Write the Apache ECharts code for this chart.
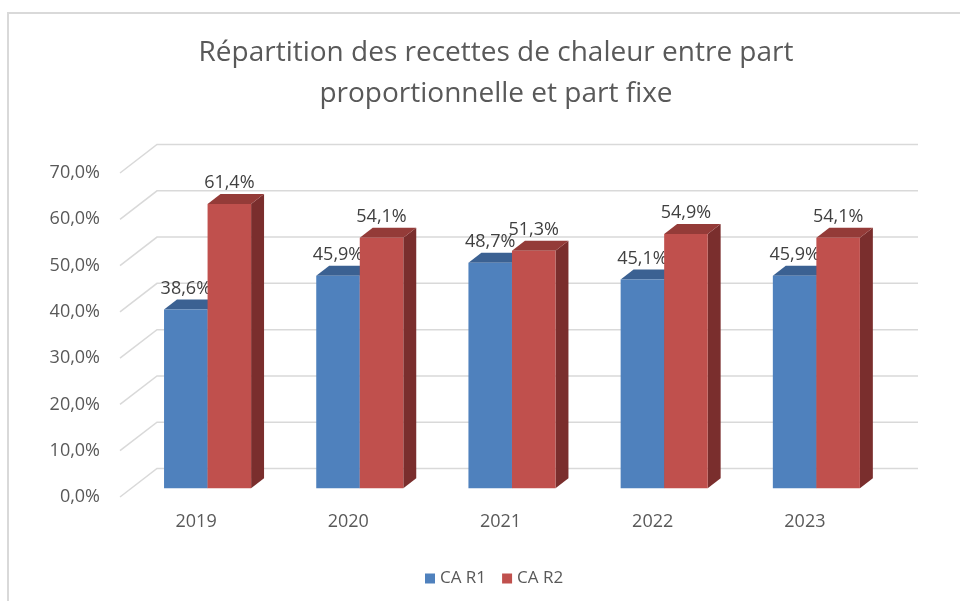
<!DOCTYPE html>
<html>
<head>
<meta charset="utf-8">
<script src="https://cdn.jsdelivr.net/npm/echarts@6/dist/echarts.min.js"></script>
<style>
  html, body { margin: 0; padding: 0; background: #fff; }
  #chart { width: 960px; height: 601px; }
</style>
</head>
<body>
<div id="chart"></div>
<script>
var years = ['2019', '2020', '2021', '2022', '2023'];
var caR1 = [38.6, 45.9, 48.7, 45.1, 45.9];
var caR2 = [61.4, 54.1, 51.3, 54.9, 54.1];
var yTicks = [0, 10, 20, 30, 40, 50, 60, 70];

// perspective offset from front plane to back wall
var DX = 37, DY = -28.5;
var FRONT = 0.31, DEPTH = 0.35;
var FONT = '"Open Sans", "Noto Sans", sans-serif';

function fmt(v) {
    return v.toFixed(1).replace('.', ',') + '%';
}

function gridItem(params, api) {
    var cs = params.coordSys;
    var y = api.coord([0, api.value(1)])[1];
    return {
        type: 'polyline',
        silent: true,
        shape: { points: [[cs.x, y], [cs.x + DX, y + DY], [cs.x + cs.width + DX, y + DY]] },
        style: { stroke: '#d9d9d9', lineWidth: 1.5, fill: null }
    };
}

function barRenderer(side, front, top, right) {
    return function (params, api) {
        var i = api.value(0), v = api.value(1);
        var c = api.coord([i, v]);
        var b = api.coord([i, 0]);
        var band = api.size([1, 0])[0];
        var w = band * 0.286;
        var fx = DX * FRONT, fy = DY * FRONT;
        var dx = DX * DEPTH, dy = DY * DEPTH;
        var x0 = c[0] + fx + (side === 0 ? -w : 0);
        var yt = c[1] + fy, yb = b[1] + fy;
        return {
            type: 'group',
            children: [
                {
                    type: 'polygon',
                    shape: { points: [[x0 + w, yt], [x0 + w + dx, yt + dy], [x0 + w + dx, yb + dy], [x0 + w, yb]] },
                    style: { fill: right }
                },
                {
                    type: 'polygon',
                    shape: { points: [[x0, yt], [x0 + w, yt], [x0 + w + dx, yt + dy], [x0 + dx, yt + dy]] },
                    style: { fill: top }
                },
                {
                    type: 'rect',
                    shape: { x: x0, y: yt, width: w, height: yb - yt },
                    style: { fill: front }
                },
                {
                    type: 'text',
                    z2: 10,
                    style: {
                        x: x0 + w / 2, y: yt - 21,
                        text: fmt(v),
                        align: 'center', verticalAlign: 'middle',
                        fill: '#404040', font: '18px ' + FONT
                    }
                }
            ]
        };
    };
}

var chart = echarts.init(document.getElementById('chart'));
chart.setOption({
    animation: false,
    backgroundColor: '#fff',
    title: {
        text: 'Répartition des recettes de chaleur entre part\nproportionnelle et part fixe',
        left: 491,
        textAlign: 'center',
        top: 28,
        textStyle: { fontFamily: FONT, fontSize: 28, fontWeight: 'normal', color: '#595959', lineHeight: 41 }
    },
    legend: {
        left: 420,
        top: 565,
        icon: 'rect',
        itemWidth: 10,
        itemHeight: 10,
        itemGap: 16,
        textStyle: { fontFamily: FONT, fontSize: 17, color: '#595959' },
        data: ['CA R1', 'CA R2']
    },
    graphic: [
        { type: 'line', shape: { x1: 7, y1: 13, x2: 960, y2: 13 }, style: { stroke: '#d9d9d9', lineWidth: 2 } },
        { type: 'line', shape: { x1: 8, y1: 13, x2: 8, y2: 601 }, style: { stroke: '#d9d9d9', lineWidth: 2 } }
    ],
    grid: { left: 120, right: 79, top: 173, bottom: 104 },
    xAxis: {
        type: 'category',
        data: years,
        axisLine: { show: false },
        axisTick: { show: false },
        axisLabel: { margin: 16, fontFamily: FONT, fontSize: 18, color: '#595959' }
    },
    yAxis: {
        type: 'value',
        min: 0,
        max: 70,
        interval: 10,
        axisLine: { show: false },
        axisTick: { show: false },
        splitLine: { show: false },
        axisLabel: { margin: 20, fontFamily: FONT, fontSize: 18, color: '#595959', formatter: fmt }
    },
    series: [
        {
            name: 'grid',
            type: 'custom',
            silent: true,
            z: 1,
            renderItem: gridItem,
            data: yTicks.map(function (t) { return [0, t]; })
        },
        {
            name: 'CA R1',
            type: 'custom',
            z: 2,
            itemStyle: { color: '#4F81BD' },
            renderItem: barRenderer(0, '#4F81BD', '#3B6192', '#2F4F78'),
            data: caR1.map(function (v, i) { return [i, v]; })
        },
        {
            name: 'CA R2',
            type: 'custom',
            z: 3,
            itemStyle: { color: '#C0504D' },
            renderItem: barRenderer(1, '#C0504D', '#943B38', '#7A2E2D'),
            data: caR2.map(function (v, i) { return [i, v]; })
        }
    ]
});
</script>
</body>
</html>
